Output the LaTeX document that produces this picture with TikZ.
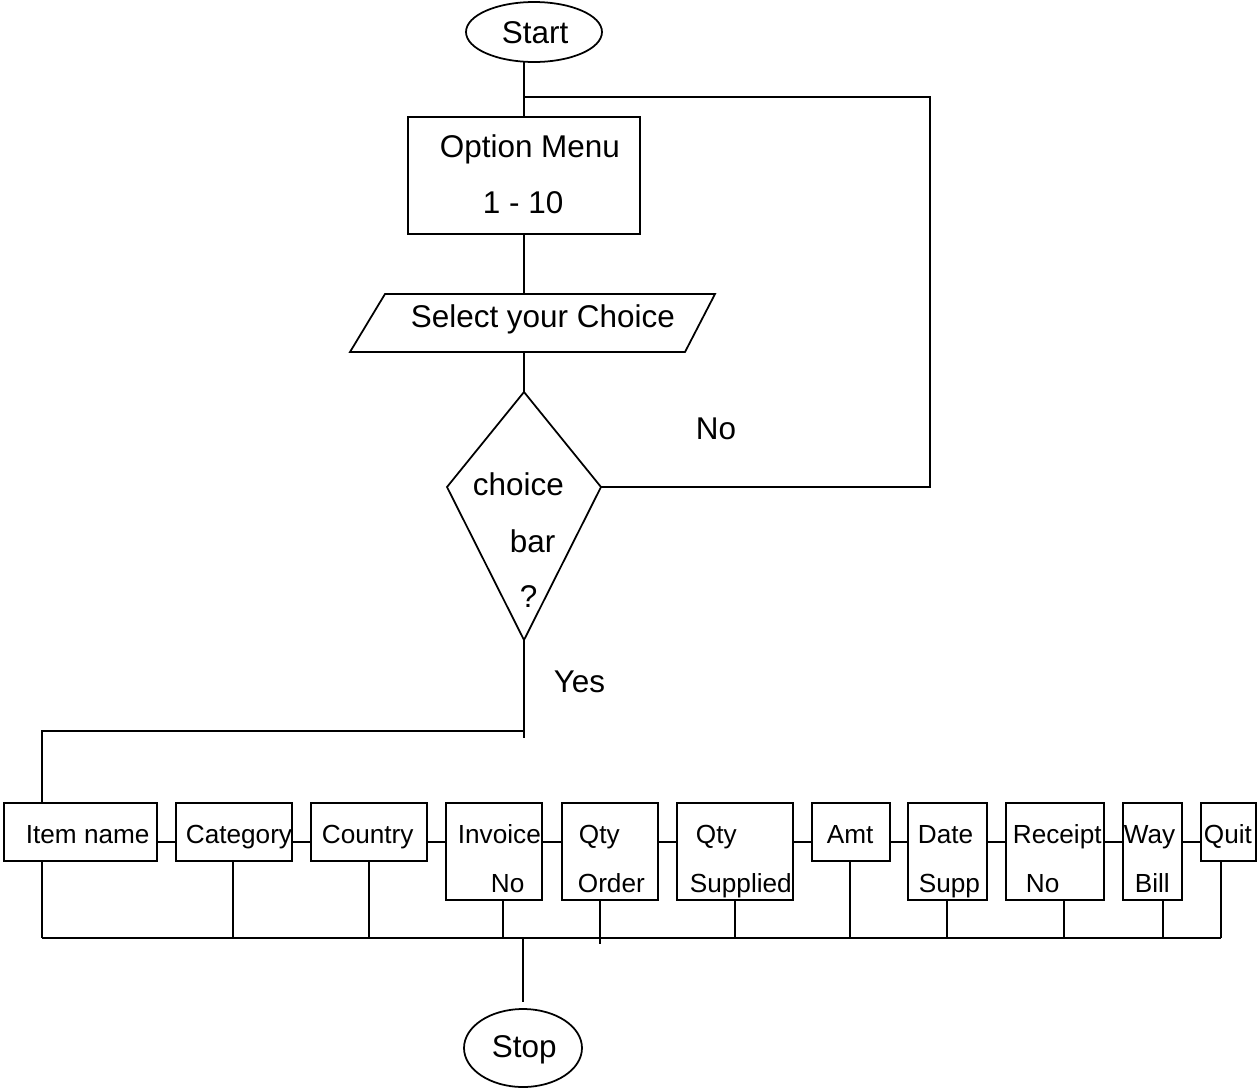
\documentclass[tikz,border=0pt]{standalone}
\usepackage{fontspec}
\setmainfont{Liberation Sans}
\usetikzlibrary{shapes.geometric,fit}

\begin{document}
\begin{tikzpicture}[x=0.02cm, y=-0.02cm, line width=1pt,
  frame/.style={draw, inner sep=0pt, outer sep=0pt},
  hidden/.style={inner sep=0pt, outer sep=0pt},
  oval/.style={draw, ellipse, inner sep=0pt, outer sep=0pt},
  big/.style={inner sep=0pt, anchor=base west, font=\fontsize{17.9}{20}\selectfont},
  small/.style={inner sep=0pt, anchor=base west, font=\fontsize{14.9}{17}\selectfont}]
\useasboundingbox (0,0) rectangle (1258,1089);

% --- main column -------------------------------------------------------
\node[oval, minimum width=2.72cm, minimum height=1.2cm] (start) at (534,32) {};
\node[big] (startT) at (501,43) {Start};

\node[frame, fit={(408,117) (640,234)}] (menu) {};
\node[big] (menuT1) at (439,157) {Option Menu};
\node[big] (menuT2) at (482,213) {1 - 10};

% input parallelogram
\node[hidden, fit={(350,294) (715,352)}] (sel) {};
\draw (sel.south west) -- ([xshift=0.7cm]sel.north west) -- (sel.north east)
      -- ([xshift=-0.6cm]sel.south east) -- cycle;
\node[big] (selT) at (410,327) {Select your Choice};

% decision: a kite, its side corners sit above the middle
\coordinate (decN) at (524,392);
\coordinate (decE) at (601,487);
\coordinate (decS) at (524,640);
\coordinate (decW) at (447,487);
\draw (decN) -- (decE) -- (decS) -- (decW) -- cycle;
\node[big] (decT1) at (472,495) {choice};
\node[big] (decT2) at (509,552) {bar};
\node[big] (decT3) at (519,607) {?};

\node[big] (noT) at (695,439) {No};
\node[big] (yesT) at (553,692) {Yes};

% --- connectors of the main column ------------------------------------
\coordinate (loopjoin) at (524,97);
\coordinate (loopcorner) at (930,97);
\draw (start.south -| menu.north) -- (menu.north);
\draw (menu.south) -- (menu.south |- sel.north);
\draw (decN |- sel.south) -- (decN);
\draw (decE) -| (loopcorner) -- (loopjoin);

% --- field boxes --------------------------------------------------------
\node[frame, fit={(4,803) (157,861)}]     (item) {};
\node[frame, fit={(176,803) (292,861)}]   (cat)  {};
\node[frame, fit={(311,803) (427,861)}]   (ctry) {};
\node[frame, fit={(446,803) (542,900)}]   (inv)  {};
\node[frame, fit={(562,803) (658,900)}]   (qo)   {};
\node[frame, fit={(677,803) (793,900)}]   (qs)   {};
\node[frame, fit={(812,803) (890,861)}]   (amt)  {};
\node[frame, fit={(908,803) (987,900)}]   (date) {};
\node[frame, fit={(1006,803) (1104,900)}] (rcpt) {};
\node[frame, fit={(1123,803) (1182,900)}] (way)  {};
\node[frame, fit={(1201,803) (1256,861)}] (quit) {};

\node[small] (itemT)  at (25,843)   {Item name};
\node[small] (catT)   at (185,843)  {Category};
\node[small] (ctryT)  at (321,843)  {Country};
\node[small] (invT1)  at (457,843)  {Invoice};
\node[small] (invT2)  at (490,892)  {No};
\node[small] (qoT1)   at (578,843)  {Qty};
\node[small] (qoT2)   at (577,892)  {Order};
\node[small] (qsT1)   at (695,843)  {Qty};
\node[small] (qsT2)   at (689,892)  {Supplied};
\node[small] (amtT)   at (826,843)  {Amt};
\node[small] (dateT1) at (917,843)  {Date};
\node[small] (dateT2) at (918,892)  {Supp};
\node[small] (rcptT1) at (1012,843) {Receipt};
\node[small] (rcptT2) at (1025,892) {No};
\node[small] (wayT1)  at (1123,843) {Way};
\node[small] (wayT2)  at (1134,892) {Bill};
\node[small] (quitT)  at (1203,843) {Quit};

% --- Yes branch into the first field --------------------------------------
\coordinate (yesend) at (524,738);
\coordinate (yesjoin) at (524,731);
\coordinate (itemdrop) at (42,731);
\draw (decS) -- (yesend);
\draw (yesjoin) -- (itemdrop) -- (itemdrop |- item.north);

% --- links between neighbouring fields ------------------------------------
\coordinate (row) at (0,842);
\foreach \a/\b in {item/cat, cat/ctry, ctry/inv, inv/qo, qo/qs, qs/amt,
                   amt/date, date/rcpt, rcpt/way, way/quit}
  \draw (\a.east |- row) -- (\b.west |- row);

% --- collecting bus and stop --------------------------------------------
\coordinate (b1)  at (42,938);
\coordinate (b2)  at (233,938);
\coordinate (b3)  at (369,938);
\coordinate (b4)  at (503,938);
\coordinate (b5)  at (600,944);
\coordinate (b6)  at (735,938);
\coordinate (b7)  at (850,938);
\coordinate (b8)  at (947,938);
\coordinate (b9)  at (1064,938);
\coordinate (b10) at (1163,938);
\coordinate (b11) at (1221,938);
\coordinate (b0)  at (523,938);
\foreach \fld/\pt in {item/b1, cat/b2, ctry/b3, inv/b4, qo/b5, qs/b6,
                      amt/b7, date/b8, rcpt/b9, way/b10, quit/b11}
  \draw (\fld.south -| \pt) -- (\pt);
\draw (b1) -- (b11);

\node[oval, minimum width=2.36cm, minimum height=1.56cm] (stop) at (523,1048) {};
\node[big] (stopT) at (491,1057) {Stop};
\draw (b0) -- ([yshift=0.14cm]stop.north);
\end{tikzpicture}
\end{document}
